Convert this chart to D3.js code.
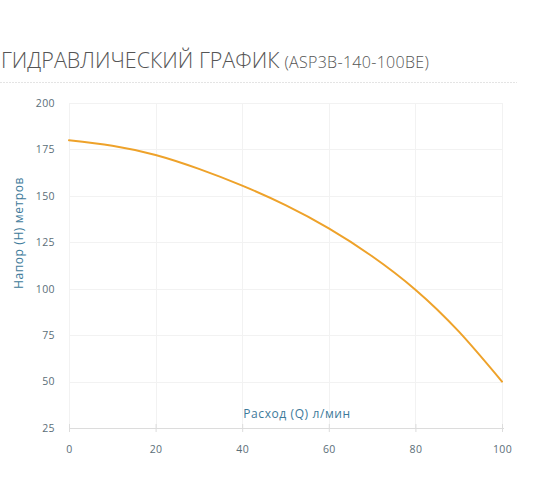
<!DOCTYPE html>
<html><head><meta charset="utf-8">
<script src="https://cdn.jsdelivr.net/npm/d3@7"></script>
<style>
html,body{margin:0;padding:0;background:#fff;overflow:hidden;}
svg{display:block;}
</style></head>
<body>
<svg id="chart" width="560" height="504"></svg>
<script>
const flow = [0, 10, 20, 30, 40, 50, 60, 70, 80, 90, 100];
const head = [180, 177, 172, 164.5, 155.5, 145, 132.5, 117.5, 99.5, 77, 50];
const xTicks = [0, 20, 40, 60, 80, 100];
const yTicks = [25, 50, 75, 100, 125, 150, 175, 200];
const titleMain = "ГИДРАВЛИЧЕСКИЙ ГРАФИК";
const titleSub = "(ASP3B-140-100BE)";
const xLabel = "Расход (Q) л/мин";
const yLabel = "Напор (H) метров";

const svg = d3.select("#chart");
const font = "'Open Sans', sans-serif";
const pLeft = 69, pRight = 502, pTop = 103, pBottom = 428;
const x = d3.scaleLinear().domain([0, 100]).range([pLeft, pRight]);
const y = d3.scaleLinear().domain([25, 200]).range([pBottom, pTop]);

// title
const t = svg.append("text").attr("x", 1).attr("y", 68)
  .attr("font-family", font).attr("fill", "#555");
t.append("tspan").attr("font-size", 21.5).attr("font-weight", 300).text(titleMain);
t.append("tspan").attr("font-size", 16).attr("font-weight", 300).attr("dx", 5)
  .attr("letter-spacing", 0.3).text(titleSub);

svg.append("line").attr("x1", 0).attr("x2", 517).attr("y1", 82.5).attr("y2", 82.5)
  .attr("stroke", "#e4e4e4").attr("stroke-width", 1).attr("stroke-dasharray", "2,1");

// grid
svg.append("g").selectAll("line").data(yTicks.filter(d => d > 25)).join("line")
  .attr("x1", pLeft).attr("x2", pRight + 1)
  .attr("y1", d => Math.round(y(d)) + 0.5).attr("y2", d => Math.round(y(d)) + 0.5)
  .attr("stroke", "#f2f2f2");
svg.append("g").selectAll("line").data(xTicks).join("line")
  .attr("x1", d => Math.round(x(d)) + 0.5).attr("x2", d => Math.round(x(d)) + 0.5)
  .attr("y1", pTop).attr("y2", pBottom)
  .attr("stroke", "#f2f2f2");

// x axis
const xa = svg.append("g").attr("transform", `translate(0,${pBottom})`)
  .call(d3.axisBottom(x).tickValues(xTicks).tickSize(6).tickPadding(12));
xa.select(".domain").attr("stroke", "#dcdcdc").attr("d", `M${pLeft},0.5H${pRight + 2}`);
xa.selectAll(".tick line").attr("stroke", "#dcdcdc").attr("y1", -4).attr("y2", 4);
xa.selectAll("text").attr("font-family", font).attr("font-size", 10.5)
  .attr("letter-spacing", 0.4).attr("fill", "#5b6e78");

// y axis labels
const ya = svg.append("g").attr("transform", `translate(${pLeft},0)`)
  .call(d3.axisLeft(y).tickValues(yTicks).tickSize(0).tickPadding(14));
ya.select(".domain").remove();
ya.selectAll("text").attr("font-family", font).attr("font-size", 10.5)
  .attr("letter-spacing", 0.4).attr("fill", "#5b6e78");

// axis titles
svg.append("text").attr("x", 297).attr("y", 418).attr("text-anchor", "middle")
  .attr("font-family", font).attr("font-size", 12).attr("letter-spacing", 0.6)
  .attr("fill", "#3d7a9a").text(xLabel);
svg.append("text").attr("transform", "translate(23,233) rotate(-90)").attr("text-anchor", "middle")
  .attr("font-family", font).attr("font-size", 12).attr("letter-spacing", 0.6)
  .attr("fill", "#3d7a9a").text(yLabel);

// curve
const pts = flow.map((f, i) => [f, head[i]]);
svg.append("path").datum(pts)
  .attr("d", d3.line().x(d => x(d[0])).y(d => y(d[1])).curve(d3.curveNatural))
  .attr("fill", "none").attr("stroke", "#eea22a").attr("stroke-width", 2)
  .attr("stroke-linecap", "round");
</script>
</body></html>
